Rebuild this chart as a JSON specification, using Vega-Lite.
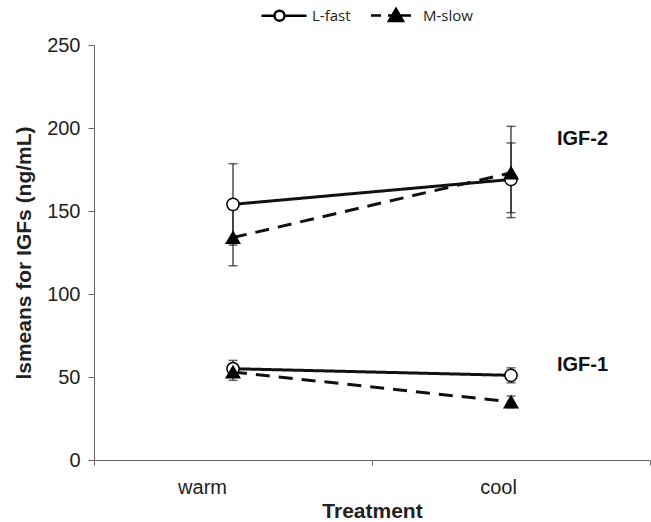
{
  "$schema": "https://vega.github.io/schema/vega-lite/v6.json",
  "width": 556,
  "height": 415,
  "autosize": {"type": "none"},
  "padding": {"left": 94, "top": 45, "right": 1, "bottom": 62},
  "background": "white",
  "config": {
    "view": {"stroke": null},
    "font": "Liberation Sans",
    "axis": {"grid": false, "domainColor": "#666", "tickColor": "#666", "labelColor": "#222", "titleColor": "#222", "labelFont": "Liberation Sans", "titleFont": "Liberation Sans"}
  },
  "datasets": {
    "pts": [
      {"igf": "IGF-2", "series": "L-fast", "treatment": "warm", "mean": 154, "lo": 129.5, "hi": 178.5},
      {"igf": "IGF-2", "series": "M-slow", "treatment": "warm", "mean": 134, "lo": 117, "hi": 151},
      {"igf": "IGF-2", "series": "L-fast", "treatment": "cool", "mean": 169, "lo": 149, "hi": 191},
      {"igf": "IGF-2", "series": "M-slow", "treatment": "cool", "mean": 173, "lo": 146, "hi": 201},
      {"igf": "IGF-1", "series": "L-fast", "treatment": "warm", "mean": 55, "lo": 50, "hi": 60},
      {"igf": "IGF-1", "series": "M-slow", "treatment": "warm", "mean": 53, "lo": 48, "hi": 57},
      {"igf": "IGF-1", "series": "L-fast", "treatment": "cool", "mean": 51, "lo": 46.5, "hi": 55.5},
      {"igf": "IGF-1", "series": "M-slow", "treatment": "cool", "mean": 35, "lo": 31.5, "hi": 38.5}
    ],
    "labels": [
      {"label": "IGF-2", "treatment": "cool", "y": 190},
      {"label": "IGF-1", "treatment": "cool", "y": 53.5}
    ],
    "legendItems": [
      {"series": "L-fast", "treatment": "warm"},
      {"series": "M-slow", "treatment": "warm"}
    ]
  },
  "encoding": {
    "x": {
      "field": "treatment", "type": "nominal", "sort": ["warm", "cool"],
      "scale": {"type": "band", "domain": ["warm", "cool"], "paddingInner": 0, "paddingOuter": 0},
      "axis": {"title": "Treatment", "labelAngle": 0, "tickBand": "extent", "tickSize": 5,
        "labelFontSize": 20, "labelPadding": 12, "titleFontSize": 21, "titleFontWeight": "bold", "titlePadding": 3,
        "labelOffset": {"condition": {"test": "datum.value === 'warm'", "value": -31}, "value": -13}}
    }
  },
  "layer": [
    {
      "data": {"name": "pts"},
      "mark": {"type": "rule", "color": "#222", "strokeWidth": 1.2},
      "encoding": {
        "y": {"field": "lo", "type": "quantitative", "title": "lsmeans for IGFs (ng/mL)",
          "scale": {"domain": [0, 250], "nice": false, "zero": true},
          "axis": {"values": [0, 50, 100, 150, 200, 250], "tickSize": 6, "labelPadding": 8, "labelFontSize": 20,
            "titleFontSize": 21, "titleFontWeight": "bold", "titlePadding": 12}},
        "y2": {"field": "hi"}
      }
    },
    {
      "data": {"name": "pts"},
      "mark": {"type": "tick", "color": "#222", "size": 9, "thickness": 1.5},
      "encoding": {"y": {"field": "lo", "type": "quantitative", "title": "lsmeans for IGFs (ng/mL)"}}
    },
    {
      "data": {"name": "pts"},
      "mark": {"type": "tick", "color": "#222", "size": 9, "thickness": 1.5},
      "encoding": {"y": {"field": "hi", "type": "quantitative", "title": "lsmeans for IGFs (ng/mL)"}}
    },
    {
      "data": {"name": "pts"},
      "mark": {"type": "line", "color": "#111", "strokeWidth": 3},
      "encoding": {
        "y": {"field": "mean", "type": "quantitative", "title": "lsmeans for IGFs (ng/mL)"},
        "detail": {"field": "igf"},
        "strokeDash": {
          "field": "series", "type": "nominal",
          "scale": {"domain": ["L-fast", "M-slow"], "range": [[1, 0], [14, 9]]},
          "legend": null
        }
      }
    },
    {
      "data": {"name": "pts"},
      "mark": {"type": "point", "filled": false, "opacity": 1, "strokeWidth": 1.5, "color": "black"},
      "encoding": {
        "y": {"field": "mean", "type": "quantitative", "title": "lsmeans for IGFs (ng/mL)"},
        "shape": {"field": "series", "type": "nominal", "scale": {"domain": ["L-fast", "M-slow"], "range": ["circle", "triangle-up"]}, "legend": null},
        "fill": {"field": "series", "type": "nominal", "scale": {"domain": ["L-fast", "M-slow"], "range": ["white", "black"]}, "legend": null},
        "size": {"field": "series", "type": "nominal", "scale": {"domain": ["L-fast", "M-slow"], "range": [150, 180]}, "legend": null}
      }
    },
    {
      "data": {"name": "legendItems"},
      "transform": [{"filter": "false"}],
      "mark": {"type": "point", "filled": false, "opacity": 1, "strokeWidth": 2.5, "color": "black"},
      "encoding": {
        "y": {"value": 0},
        "shape": {
          "field": "series", "type": "nominal",
          "scale": {"domain": ["L-fast", "M-slow"], "range": [
            "M-0.8,0H-0.28 M0.12,0H1 M0.12,0A0.2,0.2 0 1,1 -0.28,0A0.2,0.2 0 1,1 0.12,0Z",
            "M-0.86,0H-0.46 M-0.18,0H0.74 M-0.14,0.22L0.14,-0.26L0.42,0.22Z"
          ]},
          "legend": {
            "title": null, "orient": "none", "legendX": 161, "legendY": -56, "direction": "horizontal",
            "labelFont": "Open Sans", "labelFontSize": 15, "labelColor": "#222", "symbolSize": 2500,
            "columnPadding": 15, "labelOffset": 4, "symbolStrokeWidth": 2.5, "padding": 0
          }
        },
        "fill": {
          "field": "series", "type": "nominal",
          "scale": {"domain": ["L-fast", "M-slow"], "range": ["white", "black"]},
          "legend": {"title": null}
        }
      }
    },
    {
      "data": {"name": "labels"},
      "mark": {"type": "text", "align": "left", "baseline": "alphabetic", "dx": 46, "fontWeight": "bold", "fontSize": 20, "color": "#111", "font": "Liberation Sans"},
      "encoding": {
        "y": {"field": "y", "type": "quantitative", "title": "lsmeans for IGFs (ng/mL)"},
        "text": {"field": "label"}
      }
    }
  ],
  "resolve": {"scale": {"shape": "independent"}, "legend": {"shape": "independent", "fill": "independent"}}
}
